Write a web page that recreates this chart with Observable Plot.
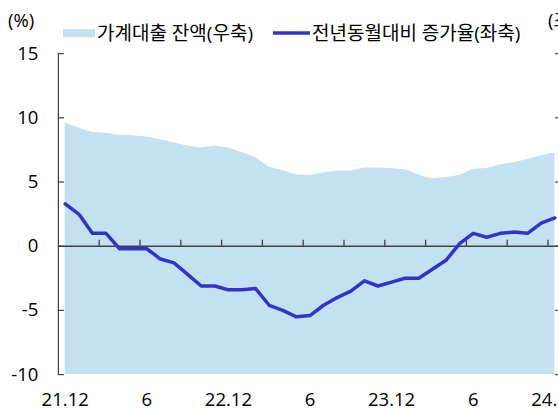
<!DOCTYPE html>
<html><head><meta charset="utf-8">
<script src="https://cdn.jsdelivr.net/npm/d3@7"></script>
<script src="https://cdn.jsdelivr.net/npm/@observablehq/plot@0.6"></script>
<style>
html,body{margin:0;padding:0;background:#fff;}
#wrap{position:relative;width:558px;height:411px;overflow:hidden;background:#fff;}
#wrap svg{display:block;position:absolute;left:0;}
</style></head>
<body><div id="wrap"></div>
<script>
// ---- data ----
const months = ["21.12",
  "22.1","22.2","22.3","22.4","22.5","22.6","22.7","22.8","22.9","22.10","22.11","22.12",
  "23.1","23.2","23.3","23.4","23.5","23.6","23.7","23.8","23.9","23.10","23.11","23.12",
  "24.1","24.2","24.3","24.4","24.5","24.6","24.7","24.8","24.9","24.10","24.11","24.12"];
// 전년동월대비 증가율 (%, 좌축)
const growth = [3.3, 2.5, 1.0, 1.0, -0.2, -0.2, -0.2, -1.0, -1.3, -2.2, -3.1, -3.1, -3.4,
  -3.4, -3.3, -4.6, -5.0, -5.5, -5.4, -4.6, -4.0, -3.5, -2.7, -3.1, -2.8,
  -2.5, -2.5, -1.8, -1.1, 0.2, 1.0, 0.7, 1.0, 1.1, 1.0, 1.8, 2.2];
// 가계대출 잔액 (조원, 우축)
const balance = [496, 492, 488.5, 488, 486.5, 486, 485, 483, 480.5, 478, 476.5, 478, 476.5,
  473, 469, 461.5, 459, 455.5, 455, 457, 458.5, 458.5, 461, 461, 460.5,
  459.5, 455.5, 452.5, 453.5, 455, 460, 460.5, 463.5, 465, 467.5, 470.5, 472.5];
const yTicks = [-10, -5, 0, 5, 10, 15];
const xTickIdx = [0, 6, 12, 18, 24, 30, 36];
const xTickLabels = ["21.12", "6", "22.12", "6", "23.12", "6", "24.12"];
const legendLabels = ["가계대출 잔액(우축)", "전년동월대비 증가율(좌축)"];
const leftUnit = "(%)", rightUnit = "(조원)";

// right axis (조원) mapped onto left axis (%): 300..550 <-> -10..15
const toLeft = b => (b - 400) / 10;

const data = months.map((m, i) => ({i, m, g: growth[i], b: balance[i]}));
const quarterBounds = d3.range(2.5, 36, 3);

const areaC = "#c4e1f1", lineC = "#3333cc", axisC = "#404040";
const latin = '"Open Sans", "Noto Sans CJK KR", sans-serif';

// ---- header (units + legend), laid over the top of the page ----
const W = 558, headH = 48, plotTop = 30;
const head = d3.create("svg").attr("width", W).attr("height", headH)
  .style("font-family", latin).style("top", "0px").style("z-index", 2);
head.append("text").attr("x", 8).attr("y", 27.3).attr("font-size", 18.5).text(leftUnit);
head.append("rect").attr("x", 63).attr("y", 29).attr("width", 32).attr("height", 8).attr("fill", areaC);
head.append("text").attr("x", 97).attr("y", 40).attr("font-size", 19).text(legendLabels[0]);
head.append("line").attr("x1", 273).attr("x2", 310).attr("y1", 33).attr("y2", 33)
  .attr("stroke", lineC).attr("stroke-width", 3.5);
head.append("text").attr("x", 312).attr("y", 40).attr("font-size", 19).text(legendLabels[1]);
head.append("text").attr("x", 548).attr("y", 27.3).attr("font-size", 18.5).text(rightUnit);

// ---- chart ----
const chart = Plot.plot({
  width: W, height: 411 - plotTop,
  marginTop: 53.1 - plotTop, marginBottom: 36.9, marginLeft: 57.9, marginRight: -3.1,
  style: {fontFamily: latin, fontSize: "18.5px", color: "#000", background: "#fff", overflow: "hidden"},
  x: {type: "linear", domain: [-0.5, 36.5], range: [57.9, 561.1], label: null},
  y: {domain: [-10, 15], label: null},
  marks: [
    Plot.areaY(data, {x: "i", y1: -10, y2: d => toLeft(d.b), fill: areaC}),
    Plot.ruleY([0], {x1: -0.5, x2: 36.5, stroke: axisC, strokeWidth: 1.5}),
    Plot.ruleX(quarterBounds, {y1: 0, y2: 0, insetTop: -6, stroke: axisC, strokeWidth: 1.3}),
    Plot.ruleX([-0.5, 36.5], {y1: -10, y2: 15, stroke: axisC, strokeWidth: 1.2}),
    Plot.ruleY(yTicks, {x1: -0.5, x2: -0.5, insetRight: -6, stroke: axisC, strokeWidth: 1.2}),
    Plot.ruleY(yTicks, {x1: 36.5, x2: 36.5, insetLeft: -6, stroke: axisC, strokeWidth: 1.2}),
    Plot.line(data, {x: "i", y: "g", stroke: lineC, strokeWidth: 3.5, strokeLinejoin: "round"}),
    Plot.axisY(yTicks, {anchor: "left", label: null, tickSize: 0, tickPadding: 20, tickFormat: d => String(d)}),
    Plot.axisX(xTickIdx, {anchor: "bottom", label: null, tickSize: 0, tickPadding: 18,
      tickFormat: d => xTickLabels[xTickIdx.indexOf(d)]})
  ]
});
chart.style.top = plotTop + "px";

const wrap = document.getElementById("wrap");
wrap.appendChild(chart);
wrap.appendChild(head.node());
</script>
</body></html>
